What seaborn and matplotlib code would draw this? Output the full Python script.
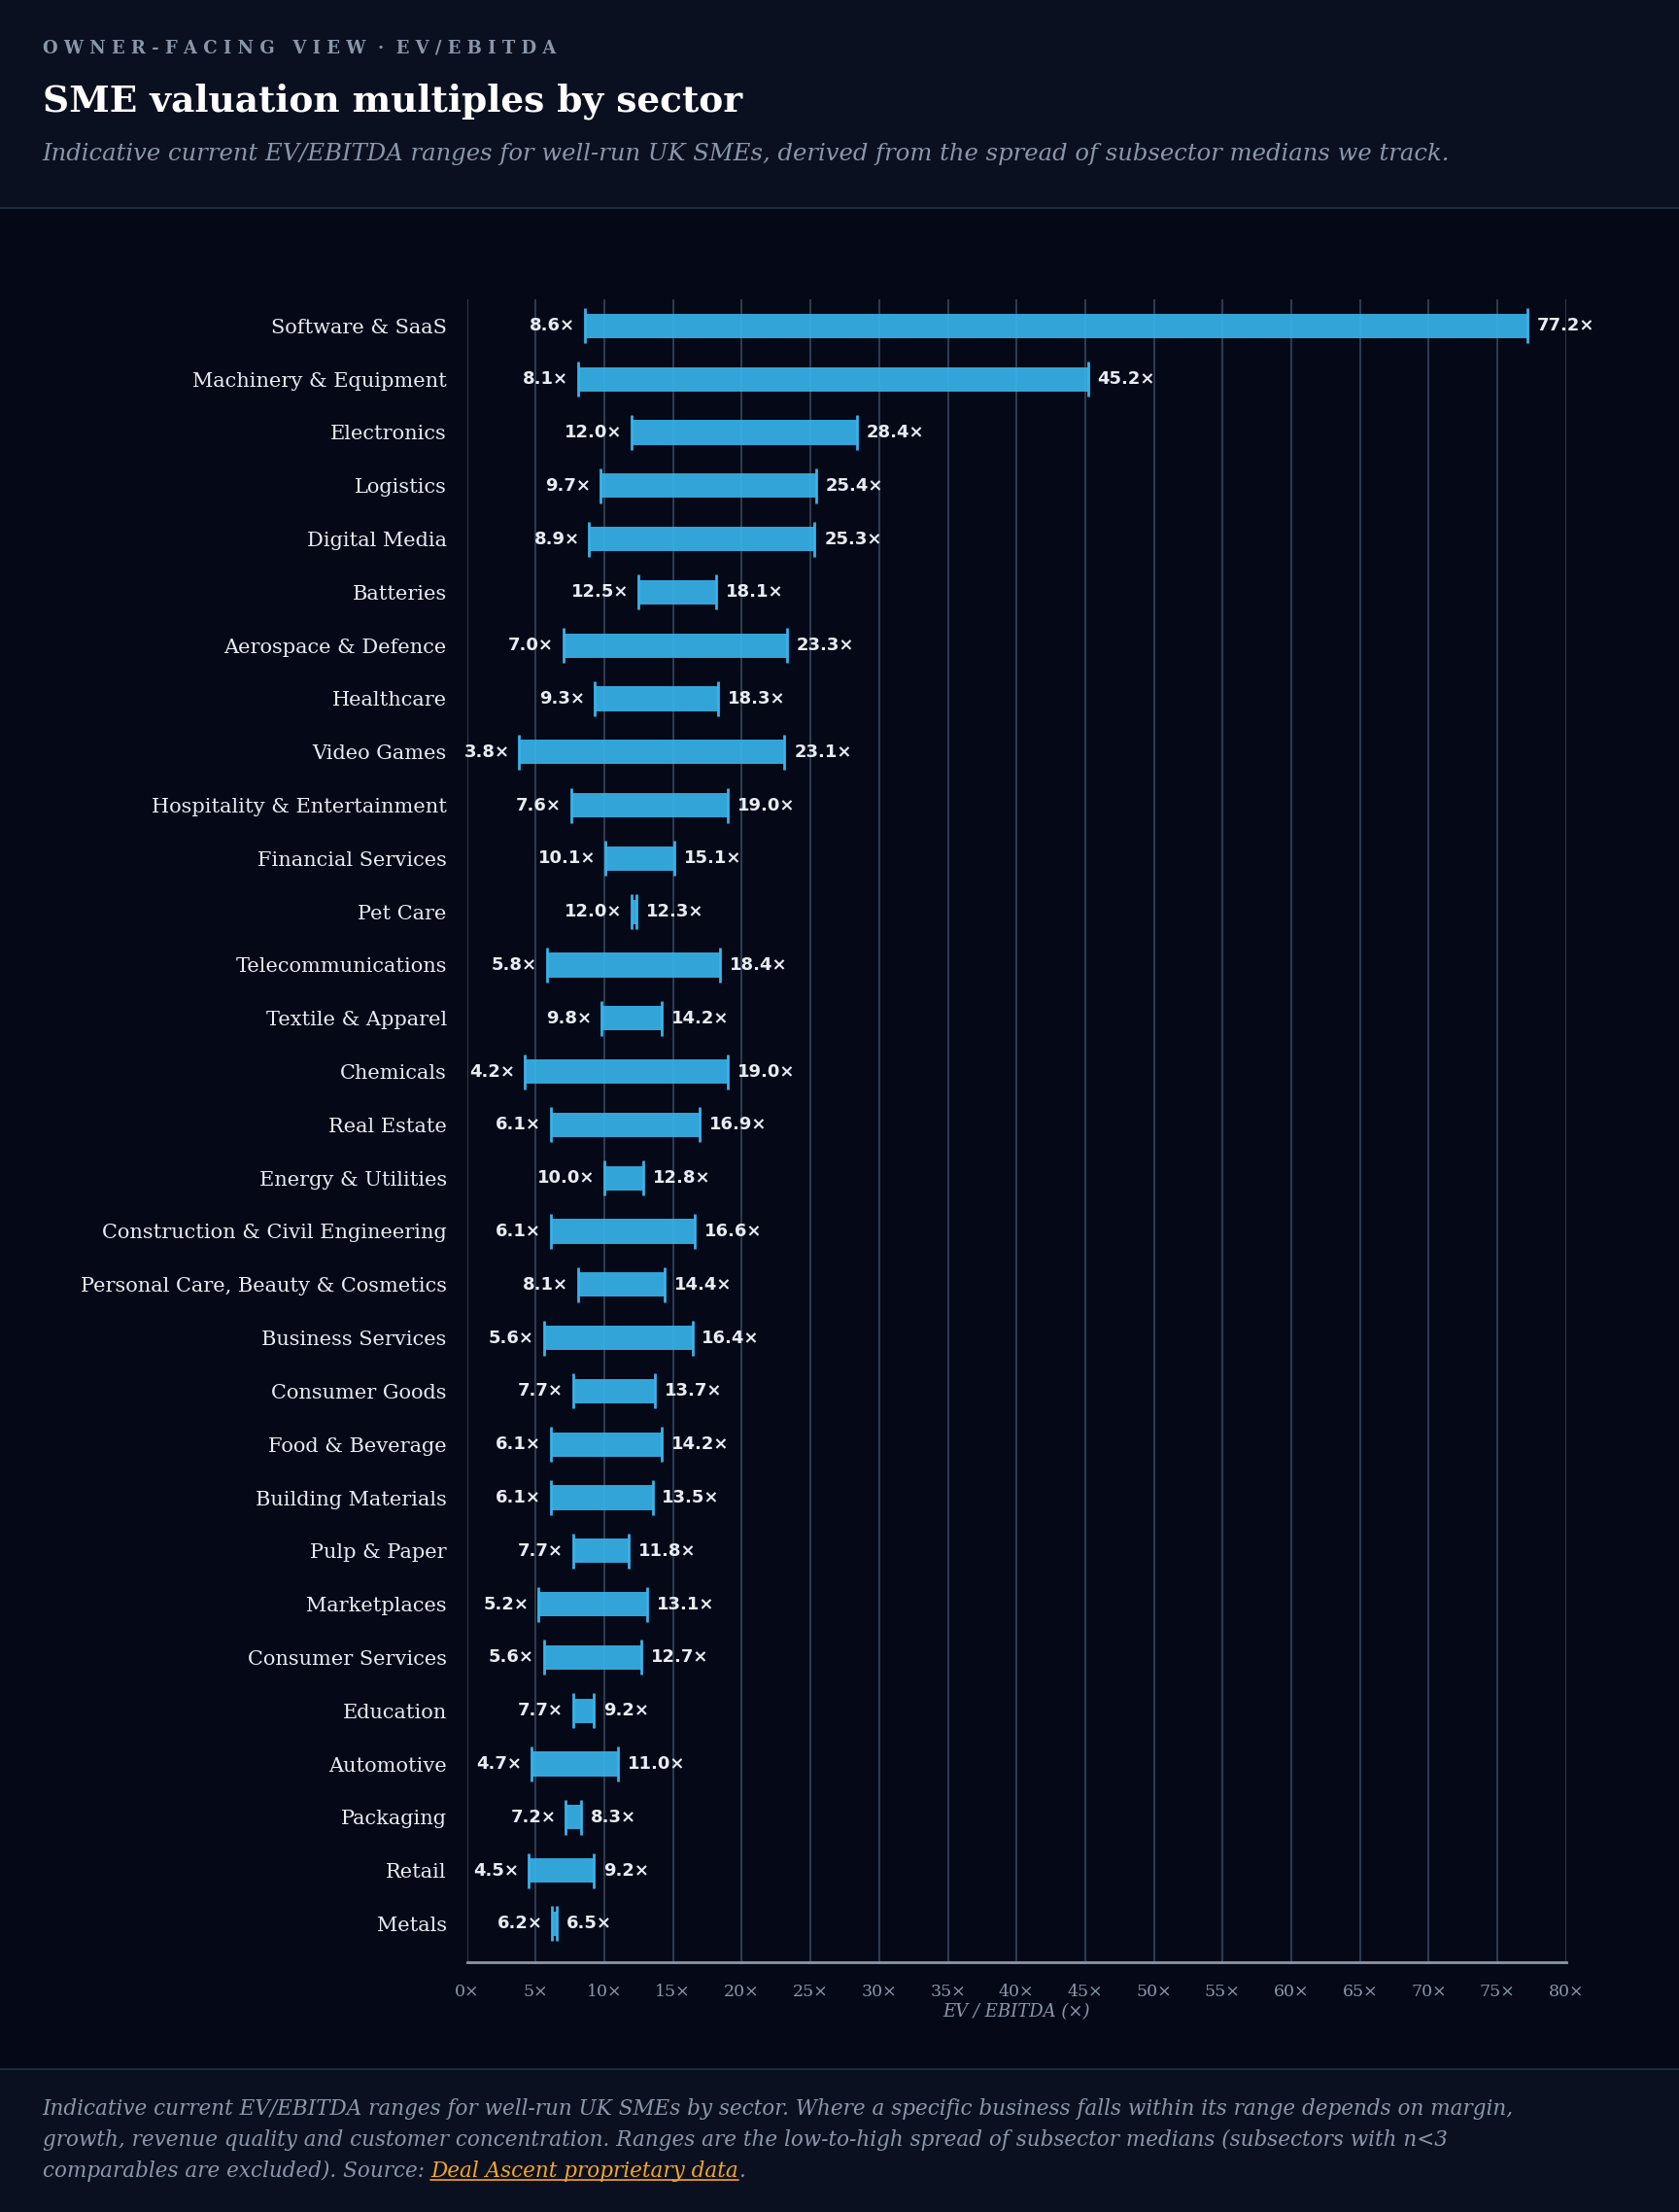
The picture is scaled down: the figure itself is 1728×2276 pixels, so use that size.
import matplotlib.pyplot as plt
import seaborn as sns
import pandas as pd

sectors = ["Software & SaaS", "Machinery & Equipment", "Electronics", "Logistics", "Digital Media",
           "Batteries", "Aerospace & Defence", "Healthcare", "Video Games", "Hospitality & Entertainment",
           "Financial Services", "Pet Care", "Telecommunications", "Textile & Apparel", "Chemicals",
           "Real Estate", "Energy & Utilities", "Construction & Civil Engineering",
           "Personal Care, Beauty & Cosmetics", "Business Services", "Consumer Goods", "Food & Beverage",
           "Building Materials", "Pulp & Paper", "Marketplaces", "Consumer Services", "Education",
           "Automotive", "Packaging", "Retail", "Metals"]
low = [8.6, 8.1, 12.0, 9.7, 8.9, 12.5, 7.0, 9.3, 3.8, 7.6, 10.1, 12.0, 5.8, 9.8, 4.2, 6.1, 10.0, 6.1,
       8.1, 5.6, 7.7, 6.1, 6.1, 7.7, 5.2, 5.6, 7.7, 4.7, 7.2, 4.5, 6.2]
high = [77.2, 45.2, 28.4, 25.4, 25.3, 18.1, 23.3, 18.3, 23.1, 19.0, 15.1, 12.3, 18.4, 14.2, 19.0, 16.9,
        12.8, 16.6, 14.4, 16.4, 13.7, 14.2, 13.5, 11.8, 13.1, 12.7, 9.2, 11.0, 8.3, 9.2, 6.5]
ticks = list(range(0, 85, 5))

df = pd.DataFrame({"sector": sectors, "low": low, "high": high})
df["pos"] = range(len(df))

sns.set_theme(style="dark")
BG = "#050816"
HEAD = "#0b1020"
BAR = "#38b2ea"
SERIF = ["DejaVu Serif"]

fig = plt.figure(figsize=(17.28, 22.76), dpi=100, facecolor=BG)
# header / footer panels
fig.patches.append(plt.Rectangle((0, 1 - 147 / 1567), 1, 147 / 1567, transform=fig.transFigure,
                                 facecolor=HEAD, edgecolor="none", zorder=0))
fig.patches.append(plt.Rectangle((0, 0), 1, 101 / 1567, transform=fig.transFigure,
                                 facecolor=HEAD, edgecolor="none", zorder=0))
fig.add_artist(plt.Line2D([0, 1], [1 - 147 / 1567] * 2, color="#1f2a3c", lw=1.5))
fig.add_artist(plt.Line2D([0, 1], [101 / 1567] * 2, color="#1f2a3c", lw=1.5))

ax = fig.add_axes([331 / 1190, 1 - 1390 / 1567, 779 / 1190, 1178 / 1567])
ax.set_facecolor(BG)

ax.barh(df["pos"], df["high"] - df["low"], left=df["low"], height=0.46, color=BAR, alpha=0.92,
        linewidth=0, zorder=3)
caps = pd.concat([df[["pos", "low"]].rename(columns={"low": "x"}),
                  df[["pos", "high"]].rename(columns={"high": "x"})])
sns.scatterplot(data=caps, x="x", y="pos", marker="|", s=700, linewidth=2, color=BAR, ax=ax, zorder=4,
                legend=False)

for _, r in df.iterrows():
    ax.text(r["low"] - 0.7, r["pos"], f"{r['low']:.1f}\u00d7", ha="right", va="center",
            color="#e8edf5", fontsize=13, fontweight="bold", zorder=5)
    ax.text(r["high"] + 0.7, r["pos"], f"{r['high']:.1f}\u00d7", ha="left", va="center",
            color="#e8edf5", fontsize=13, fontweight="bold", zorder=5)

ax.set_xlim(0, 80)
ax.set_ylim(len(df) - 0.28, -0.5)
ax.set_xticks(ticks)
ax.set_xticklabels([f"{t}\u00d7" for t in ticks], family=SERIF, color="#8a97ab", fontsize=12.5)
ax.set_yticks(df["pos"])
ax.set_yticklabels(df["sector"], family=SERIF, color="#e8edf5", fontsize=15)
ax.tick_params(axis="y", length=0, pad=15)
ax.tick_params(axis="x", length=8, color="#8a97ab", width=1.2, direction="out", pad=8)
ax.grid(axis="x", color="#2e3a50", lw=1.5, zorder=0)
ax.grid(axis="y", visible=False)
for s in ["top", "right", "left"]:
    ax.spines[s].set_visible(False)
ax.spines["bottom"].set_color("#8a97ab")
ax.spines["bottom"].set_linewidth(2)
ax.set_xlabel("EV / EBITDA (\u00d7)", family=SERIF, style="italic", color="#8a97ab", fontsize=13, labelpad=2)
ax.set_ylabel("")

lx = 30 / 1190
fig.text(lx, 1 - 34 / 1567, "O W N E R - F A C I N G   V I E W  \u00b7  E V / E B I T D A", family=SERIF,
         color="#8a97ab", fontsize=13, fontweight="bold", va="center")
fig.text(lx, 1 - 72 / 1567, "SME valuation multiples by sector", family=SERIF, color="white",
         fontsize=27, fontweight="bold", va="center")
fig.text(lx, 1 - 109 / 1567,
         "Indicative current EV/EBITDA ranges for well-run UK SMEs, derived from the spread of subsector medians we track.",
         family=SERIF, style="italic", color="#8a97ab", fontsize=17.5, va="center")

foot = ["Indicative current EV/EBITDA ranges for well-run UK SMEs by sector. Where a specific business falls within its range depends on margin,",
        "growth, revenue quality and customer concentration. Ranges are the low-to-high spread of subsector medians (subsectors with n<3",
        "comparables are excluded). Source: "]
fkw = dict(family=SERIF, style="italic", fontsize=15.5, va="center")
for i, line in enumerate(foot):
    src = fig.text(lx, 1 - (1494 + 22 * i) / 1567, line, color="#8a97ab", **fkw)
fig.canvas.draw()
r = fig.canvas.get_renderer()
bb = src.get_window_extent(r).transformed(fig.transFigure.inverted())
ly = 1 - 1538 / 1567
link = fig.text(bb.x1, ly, "Deal Ascent proprietary data", color="#f5a623", **fkw)
bb2 = link.get_window_extent(r).transformed(fig.transFigure.inverted())
fig.add_artist(plt.Line2D([bb2.x0, bb2.x1], [bb2.y0 + 0.001] * 2, color="#f5a623", lw=1.2))
fig.text(bb2.x1, ly, ".", color="#8a97ab", **fkw)

fig.savefig("out.png", dpi=100, facecolor=BG)
